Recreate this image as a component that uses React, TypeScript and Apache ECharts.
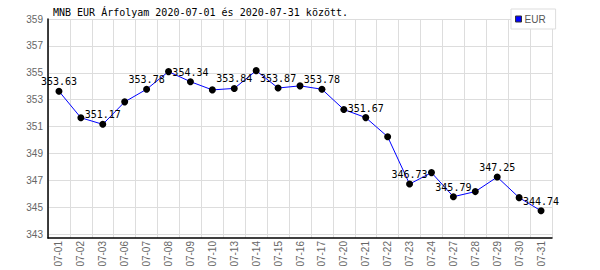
import React, { useEffect, useRef } from "react";
import * as echarts from "echarts";

const titleText = "MNB EUR Árfolyam 2020-07-01 és 2020-07-31 között.";
const seriesName = "EUR";
const dates = [
  "07-01", "07-02", "07-03", "07-06", "07-07", "07-08", "07-09", "07-10",
  "07-13", "07-14", "07-15", "07-16", "07-17", "07-20", "07-21", "07-22",
  "07-23", "07-24", "07-27", "07-28", "07-29", "07-30", "07-31",
];
const values = [
  353.63, 351.66, 351.17, 352.84, 353.78, 355.09, 354.34, 353.73,
  353.84, 355.16, 353.87, 354.03, 353.78, 352.27, 351.67, 350.25,
  346.73, 347.58, 345.79, 346.17, 347.25, 345.72, 344.74,
];
const yTicks = [343, 345, 347, 349, 351, 353, 355, 357, 359];
const yMin = 342.72;
const yMax = 359;

export default function App() {
  const ref = useRef<HTMLDivElement>(null);
  useEffect(() => {
    if (!ref.current) return;
    const chart = echarts.init(ref.current, undefined, { renderer: "svg" });
    const mono = "DejaVu Sans Mono";
    const sans = "Liberation Sans";
    chart.setOption({
      animation: false,
      backgroundColor: "#fff",
      title: {
        text: titleText,
        left: 53,
        top: 7,
        padding: 0,
        textStyle: { fontFamily: mono, fontSize: 10, fontWeight: "normal", color: "#000" },
      },
      legend: {
        left: 511,
        top: 9,
        padding: [4, 10, 4, 4],
        borderColor: "#ddd",
        borderWidth: 1,
        backgroundColor: "#fff",
        itemWidth: 6,
        itemHeight: 6,
        itemGap: 0,
        icon: "rect",
        textStyle: { fontFamily: sans, fontSize: 10, color: "#555", padding: [0, 0, 0, -2], lineHeight: 12 },
        data: [
          { name: seriesName, itemStyle: { color: "#0000ff", borderColor: "#333", borderWidth: 1 } },
        ],
      },
      grid: { left: 48, right: 48, top: 19, bottom: 32, containLabel: false },
      xAxis: {
        type: "category",
        data: dates,
        boundaryGap: true,
        axisLine: { show: true, lineStyle: { color: "#000", width: 1.5 } },
        axisTick: { show: false },
        axisLabel: {
          rotate: 90,
          margin: 3,
          fontFamily: sans,
          fontSize: 10,
          color: "#666",
          interval: 0,
        },
        splitLine: { show: true, interval: 0, lineStyle: { color: "#ddd", width: 1 } },
      },
      yAxis: {
        type: "value",
        min: yMin,
        max: yMax,
        axisLine: { show: true, lineStyle: { color: "#000", width: 1.5 } },
        axisTick: { show: false, customValues: yTicks },
        axisLabel: {
          customValues: yTicks,
          margin: 5,
          fontFamily: sans,
          fontSize: 10,
          color: "#666",
          showMinLabel: true,
          showMaxLabel: true,
        },
        splitLine: { show: true, lineStyle: { color: "#ddd", width: 1 } },
      },
      series: [
        {
          name: seriesName,
          type: "line",
          data: values.map((v, i) => ({
            value: v,
            label: { show: i % 2 === 0 },
          })),
          symbol: "circle",
          symbolSize: 7,
          showAllSymbol: true,
          lineStyle: { color: "#0000ff", width: 1 },
          itemStyle: { color: "#000" },
          label: {
            position: "top",
            distance: 1,
            fontFamily: mono,
            fontSize: 10,
            color: "#000",
            formatter: (p: any) => Number(p.value).toFixed(2),
          },
          emphasis: { disabled: true },
        },
      ],
    });
    return () => chart.dispose();
  }, []);
  return (
    <div
      ref={ref}
      style={{ position: "fixed", left: 0, top: 0, width: 600, height: 270 }}
    />
  );
}
